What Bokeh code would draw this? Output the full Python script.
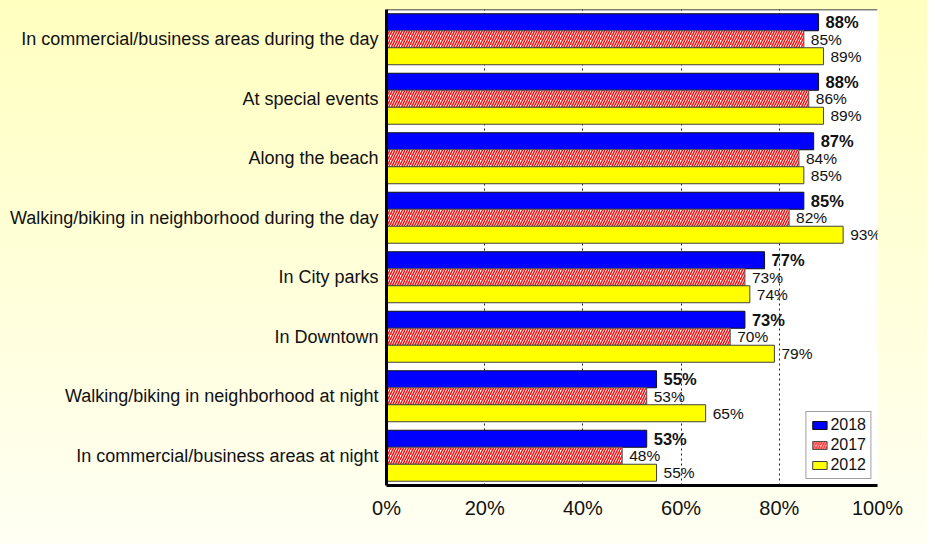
from bokeh.plotting import figure
from bokeh.models import (ColumnDataSource, FactorRange, Range1d, FixedTicker,
                          PrintfTickFormatter, Legend, LegendItem, Span)
from bokeh.transform import dodge
from bokeh.core.properties import value
from bokeh.embed import file_html
from bokeh.resources import INLINE

categories = [
    "In commercial/business areas during the day",
    "At special events",
    "Along the beach",
    "Walking/biking in neighborhood during the day",
    "In City parks",
    "In Downtown",
    "Walking/biking in neighborhood at night",
    "In commercial/business areas at night",
]
y2018 = [88, 88, 87, 85, 77, 73, 55, 53]
y2017 = [85, 86, 84, 82, 73, 70, 53, 48]
y2012 = [89, 89, 85, 93, 74, 79, 65, 55]
series_names = ["2018", "2017", "2012"]
x_ticks = [0, 20, 40, 60, 80, 100]

FONT = "Liberation Sans"
src = ColumnDataSource(dict(
    cat=categories, v18=y2018, v17=y2017, v12=y2012,
    t18=[f"{v}%" for v in y2018],
    t17=[f"{v}%" for v in y2017],
    t12=[f"{v}%" for v in y2012],
))

p = figure(width=927, height=544,
           y_range=FactorRange(factors=categories[::-1], range_padding=0),
           x_range=Range1d(0, 100),
           output_backend="svg", toolbar_location=None,
           min_border_left=386, min_border_right=50,
           min_border_top=9, min_border_bottom=59)
p.background_fill_color = "white"
p.border_fill_color = None
p.outline_line_color = None
p.styles = {"background": "linear-gradient(180deg, #FFFFC0 0%, #FFFFF3 100%)"}

bh = 0.2857
r18 = p.hbar(y=dodge("cat", bh, range=p.y_range), left=0, right="v18", height=bh,
             fill_color="#0000FF", line_color="#111111", line_width=1, source=src)
r17 = p.hbar(y=dodge("cat", 0, range=p.y_range), left=0, right="v17", height=bh,
             fill_color="white", hatch_pattern="/", hatch_color="#FF1010",
             hatch_scale=5, hatch_weight=1.5,
             line_color="#505050", line_width=1, source=src)
r12 = p.hbar(y=dodge("cat", -bh, range=p.y_range), left=0, right="v12", height=bh,
             fill_color="#FFFF00", line_color="#404040", line_width=1, source=src)

p.text(x="v18", y=dodge("cat", bh, range=p.y_range), text="t18", source=src,
       x_offset=7, text_baseline="middle", text_font=value(FONT),
       text_font_size="16.5px", text_font_style="bold", text_color="#111111")
p.text(x="v17", y=dodge("cat", 0, range=p.y_range), text="t17", source=src,
       x_offset=7, text_baseline="middle", text_font=value(FONT),
       text_font_size="15.5px", text_color="#111111")
p.text(x="v12", y=dodge("cat", -bh, range=p.y_range), text="t12", source=src,
       x_offset=7, text_baseline="middle", text_font=value(FONT),
       text_font_size="15.5px", text_color="#111111")

# axes
p.xaxis.ticker = FixedTicker(ticks=x_ticks)
p.xaxis.formatter = PrintfTickFormatter(format="%d%%")
p.xaxis.axis_line_width = 3
p.xaxis.axis_line_color = "black"
p.xaxis.major_tick_line_color = None
p.xaxis.minor_tick_line_color = None
p.xaxis.major_label_text_font = FONT
p.xaxis.major_label_text_font_size = "20px"
p.xaxis.major_label_text_color = "#111111"
p.xaxis.major_label_standoff = 5

p.yaxis.axis_line_width = 3
p.yaxis.axis_line_color = "black"
p.yaxis.major_tick_line_color = None
p.yaxis.minor_tick_line_color = None
p.yaxis.major_label_text_font = FONT
p.yaxis.major_label_text_font_size = "18px"
p.yaxis.major_label_text_color = "#111111"
p.yaxis.major_label_standoff = 2

p.xgrid.grid_line_color = "#222222"
p.xgrid.grid_line_dash = "2 3"
p.xgrid.grid_line_width = 1
p.ygrid.visible = False

# top frame border
p.add_layout(Span(location=len(categories), dimension="width",
                  line_color="black", line_width=1.5))

# legend (inside the frame, lower right, where it stays visible)
legend = Legend(items=[LegendItem(label=series_names[0], renderers=[r18]),
                       LegendItem(label=series_names[1], renderers=[r17]),
                       LegendItem(label=series_names[2], renderers=[r12])],
                location="bottom_right", orientation="vertical",
                glyph_width=18, glyph_height=10, label_standoff=2, spacing=2,
                label_height=18, padding=4, margin=6,
                label_text_font=FONT, label_text_font_size="16px",
                label_text_color="#111111",
                background_fill_color="white", background_fill_alpha=1,
                border_line_color="#404040", border_line_width=1.5)
p.add_layout(legend, "center")

open("out.html", "w").write(file_html(p, INLINE))
